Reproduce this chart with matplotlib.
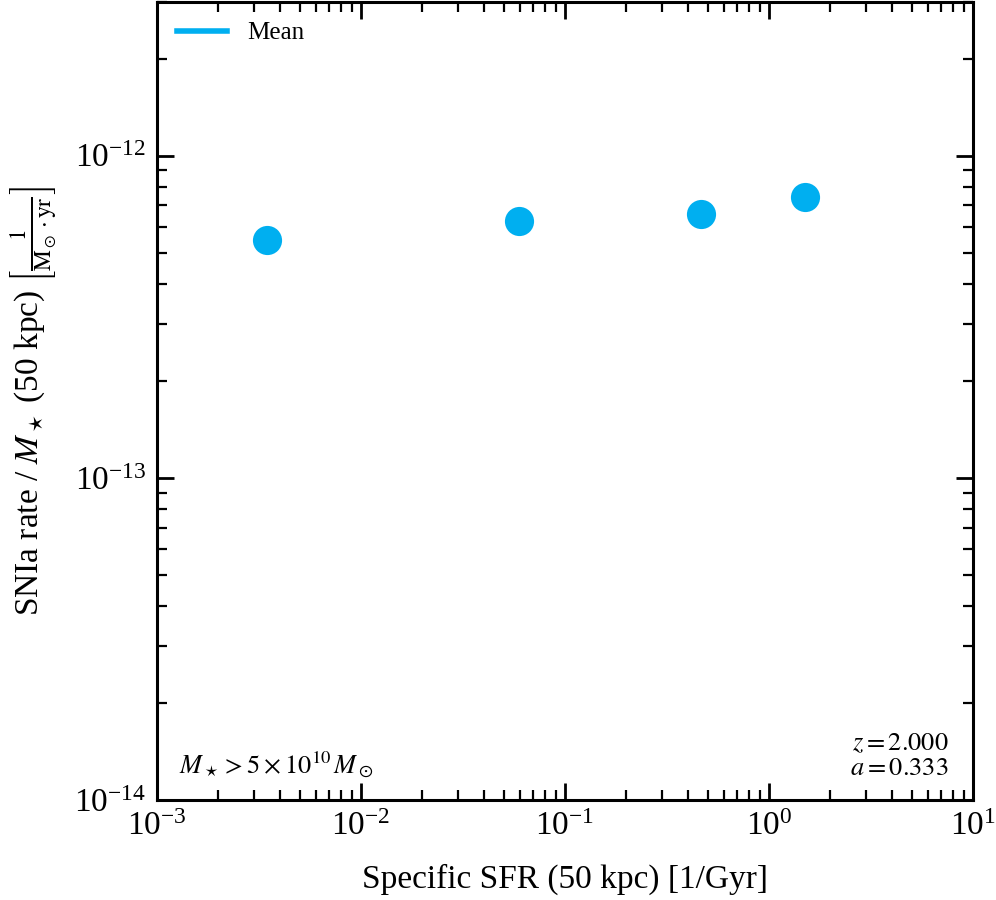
import matplotlib
matplotlib.use('Agg')
import matplotlib.pyplot as plt
from matplotlib.lines import Line2D
from matplotlib.ticker import NullFormatter

# mean SNIa rate per stellar mass in bins of specific SFR
ssfr = [0.00346, 0.0596, 0.464, 1.50]
snia_rate = [5.48e-13, 6.28e-13, 6.60e-13, 7.46e-13]
x_major = [1e-3, 1e-2, 1e-1, 1e0, 1e1]
y_major = [1e-14, 1e-13, 1e-12]

color = '#00aff0'

plt.rcParams['font.family'] = ['Liberation Serif', 'DejaVu Serif']
plt.rcParams['mathtext.fontset'] = 'stix'

fig = plt.figure(figsize=(9.96, 9.0), dpi=100)
ax = fig.add_axes([0.1576, 0.111, 0.8194, 0.887])

ax.plot(ssfr, snia_rate, 'o', color=color, markersize=21, markeredgewidth=0)

ax.set_xscale('log')
ax.set_yscale('log')
ax.set_xticks(x_major)
ax.set_yticks(y_major)
ax.set_xlim(1e-3, 1e1)
ax.set_ylim(1e-14, 3e-12)
ax.xaxis.set_minor_formatter(NullFormatter())
ax.yaxis.set_minor_formatter(NullFormatter())

ax.set_xlabel('Specific SFR (50 kpc) [1/Gyr]', fontsize=24, labelpad=16)
ax.set_ylabel(r'SNIa rate / $M_\star$ (50 kpc) $\left[\frac{1}{\mathrm{M_\odot \cdot yr}}\right]$',
              fontsize=24, labelpad=10)

for s in ax.spines.values():
    s.set_linewidth(2.2)
ax.tick_params(which='both', direction='in', top=True, right=True, labelsize=24)
ax.tick_params(which='major', length=12, width=2, pad=8)
ax.tick_params(which='minor', length=7, width=1.6)

handle = Line2D([], [], color=color, lw=4)
ax.legend([handle], ['Mean'], loc='upper left', frameon=False, fontsize=18,
          handlelength=2.0, borderaxespad=0.4)

ax.text(0.027, 0.025, r'$M_\star > 5\times10^{10}\,M_\odot$', transform=ax.transAxes,
        fontsize=19, ha='left', va='bottom')
ax.text(0.97, 0.025, '$z = 2.000$\n$a = 0.333$', transform=ax.transAxes,
        fontsize=19, ha='right', va='bottom', linespacing=1.15)

fig.savefig('out.png', dpi=100)
